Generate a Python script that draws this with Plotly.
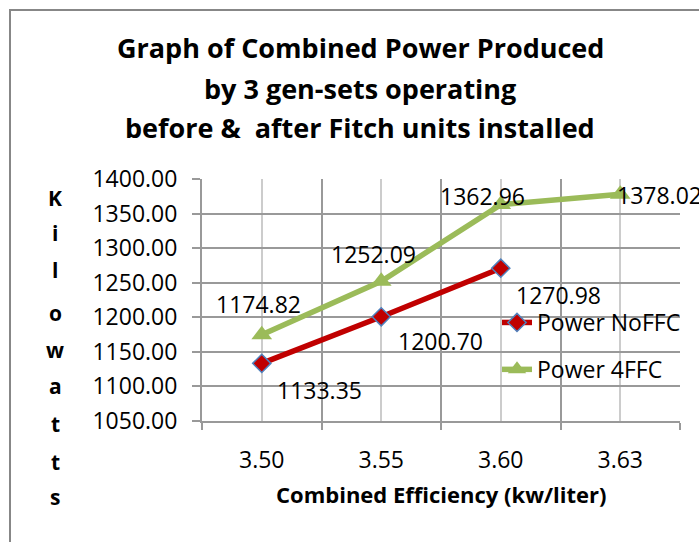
import plotly.graph_objects as go

# ---- data ----
categories = ["3.50", "3.55", "3.60", "3.63"]
power_noffc = [1133.35, 1200.70, 1270.98, None]
power_4ffc = [1174.82, 1252.09, 1362.96, 1378.02]
y_ticks = [1050, 1100, 1150, 1200, 1250, 1300, 1350, 1400]

# ---- layout constants ----
W, H = 699, 542
ML, MR, MT, MB = 202, 19, 179, 121
PW, PH = W - ML - MR, H - MT - MB
FONT = "Open Sans"
RED, GREEN, BLUE = "#C00000", "#9BBB59", "#4F81BD"
GRID, GRID_LIGHT = "#999999", "#CCCCCC"
FS = 23

# label offsets (pixels) per point
noffc_shift = [(58, -27), (59, -24), (58, -27)]
ffc_shift = [(-3, 31), (-8, 27), (-18, 9), (39, -1)]

xidx = list(range(len(categories)))

fig = go.Figure()
fig.add_trace(go.Scatter(
    x=xidx, y=power_noffc, name="Power NoFFC", mode="lines+markers",
    line=dict(color=RED, width=5.5),
    marker=dict(symbol="diamond", size=14, color=RED, line=dict(color=BLUE, width=1.5)),
    legendgroup="a", cliponaxis=False,
))
fig.add_trace(go.Scatter(
    x=xidx, y=power_4ffc, name="Power 4FFC", mode="lines+markers",
    line=dict(color=GREEN, width=5.5),
    marker=dict(symbol="triangle-up", size=18, color=GREEN),
    legendgroup="b", cliponaxis=False,
))

annotations = []
for i, v in enumerate(power_noffc):
    if v is None:
        continue
    dx, dy = noffc_shift[i]
    annotations.append(dict(x=i, y=v, text=f"{v:.2f}", showarrow=False, xshift=dx, yshift=dy,
                            font=dict(family=FONT, size=FS, color="black")))
for i, v in enumerate(power_4ffc):
    dx, dy = ffc_shift[i]
    annotations.append(dict(x=i, y=v, text=f"{v:.2f}", showarrow=False, xshift=dx, yshift=dy,
                            font=dict(family=FONT, size=FS, color="black")))

# title lines
title_lines = ["Graph of Combined Power Produced", "by 3 gen-sets operating", "before &amp;  after Fitch units installed"]
title_y = [48, 88, 128]
for t, py in zip(title_lines, title_y):
    annotations.append(dict(xref="paper", yref="paper", x=(360 - ML) / PW, y=(H - MB - py) / PH,
                            text=f"<b>{t}</b>", showarrow=False, xanchor="center", yanchor="middle",
                            font=dict(family=FONT, size=27, color="black")))

# vertical y-axis title letters
letters = list("Kilowatts")
letter_y = [198, 233, 270, 313, 350, 386, 424, 462, 497]
for ch, py in zip(letters, letter_y):
    annotations.append(dict(xref="paper", yref="paper", x=(55 - ML) / PW, y=(H - MB - py) / PH,
                            text=f"<b>{ch}</b>", showarrow=False, xanchor="center", yanchor="middle",
                            font=dict(family=FONT, size=21, color="black")))

# x-axis title
annotations.append(dict(xref="paper", yref="paper", x=(441 - ML) / PW, y=(H - MB - 494) / PH,
                        text="<b>Combined Efficiency (kw/liter)</b>", showarrow=False,
                        xanchor="center", yanchor="middle",
                        font=dict(family=FONT, size=22, color="black")))

shapes = [
    dict(type="line", xref="paper", yref="paper", x0=(10 - ML) / PW, x1=(10 - ML) / PW,
         y0=(H - MB - 9) / PH, y1=(H - MB - H) / PH, line=dict(color="#878787", width=2)),
    dict(type="line", xref="paper", yref="paper", x0=(9 - ML) / PW, x1=(W - ML) / PW,
         y0=(H - MB - 10) / PH, y1=(H - MB - 10) / PH, line=dict(color="#878787", width=2)),
]

fig.update_layout(
    width=W, height=H,
    margin=dict(l=ML, r=MR, t=MT, b=MB),
    paper_bgcolor="white", plot_bgcolor="white",
    font=dict(family=FONT, size=FS, color="black"),
    showlegend=True,
    legend=dict(x=(497 - ML) / PW, y=(H - MB - 301) / PH, xanchor="left", yanchor="top",
                bgcolor="rgba(0,0,0,0)", font=dict(family=FONT, size=FS),
                tracegroupgap=14, traceorder="grouped"),
    annotations=annotations,
    shapes=shapes,
    xaxis=dict(
        range=[-0.5, len(categories) - 0.5], tickmode="array", tickvals=xidx, ticktext=categories,
        showgrid=True, gridcolor=GRID_LIGHT, gridwidth=1.5, ticks="", zeroline=False,
        showline=True, linecolor=GRID, linewidth=2,
        ticklabelstandoff=17,
        tickfont=dict(family=FONT, size=FS),
        minor=dict(tickmode="array", tickvals=[i - 0.5 for i in range(len(categories) + 1)],
                   ticks="outside", ticklen=7, tickcolor=GRID, tickwidth=2,
                   showgrid=True, gridcolor=GRID, gridwidth=1.5),
    ),
    yaxis=dict(
        range=[1050, 1400], tickmode="array", tickvals=y_ticks, tickformat=".2f",
        showgrid=True, gridcolor=GRID, gridwidth=1.5, zeroline=False,
        showline=True, linecolor=GRID, linewidth=2,
        ticks="outside", ticklen=8, tickcolor=GRID, tickwidth=2,
        ticklabelstandoff=10,
        tickfont=dict(family=FONT, size=FS),
    ),
)

fig.write_html("out.html", config={"displayModeBar": False},
               post_script="document.body.style.margin='0';document.body.style.overflow='hidden';")
